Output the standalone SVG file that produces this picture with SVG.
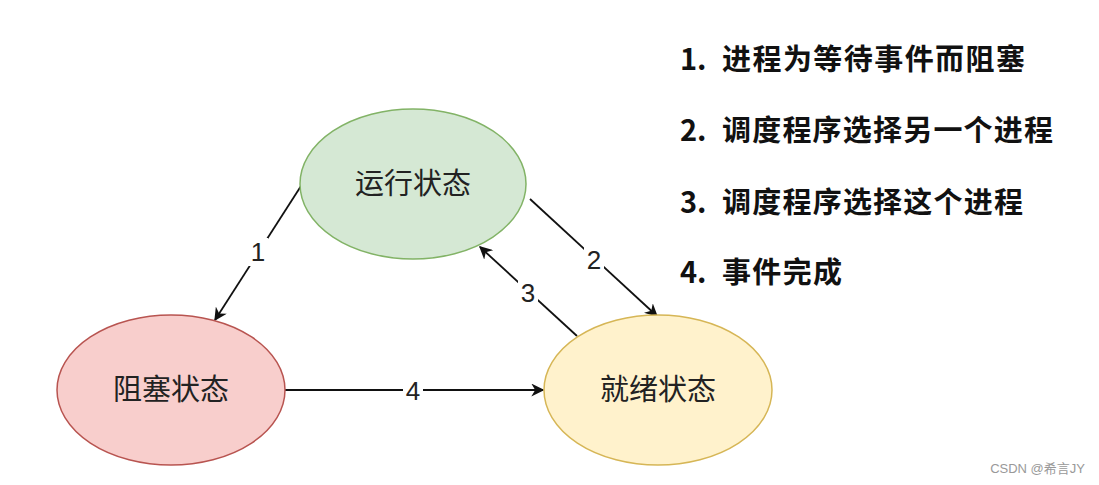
<svg xmlns="http://www.w3.org/2000/svg" width="1099" height="485" viewBox="0 0 1099 485">
<style>
.node-text{font-family:"Liberation Sans","Noto Sans CJK SC",sans-serif;font-size:29px;fill:#222;text-anchor:middle;dominant-baseline:central}
.lbl{font-family:"Liberation Sans",Arial,sans-serif;font-size:26px;fill:#222;text-anchor:middle;dominant-baseline:central}
.lblbg{fill:#fff}
.edge{stroke:#111;stroke-width:1.8;fill:none;marker-end:url(#arr)}
.legend{font-family:"Noto Sans CJK SC",sans-serif;font-size:29px;font-weight:bold;fill:#111}
</style>
<defs>
<marker id="arr" viewBox="0 0 10 10" refX="9" refY="5" markerWidth="13" markerHeight="13" markerUnits="userSpaceOnUse" orient="auto">
<path d="M0,0 L10,5 L0,10 L3,5 Z" fill="#111"/>
</marker>
</defs>
<rect width="1099" height="485" fill="#fff"/>
<g id="connectors">
<line class="edge" x1="301" y1="186" x2="215" y2="320"/>
<line class="edge" x1="530" y1="199" x2="657" y2="316"/>
<line class="edge" x1="577" y1="336" x2="480" y2="247"/>
<line class="edge" x1="285" y1="390" x2="543" y2="390"/>
<rect class="lblbg" x="248" y="238" width="20" height="28"/>
<text class="lbl" x="258" y="252">1</text>
<rect class="lblbg" x="584" y="246" width="20" height="28"/>
<text class="lbl" x="594" y="260">2</text>
<rect class="lblbg" x="518" y="279" width="20" height="28"/>
<text class="lbl" x="528" y="293">3</text>
<rect class="lblbg" x="403" y="377" width="20" height="28"/>
<text class="lbl" x="413" y="391">4</text>
</g>
<g id="running">
<ellipse cx="413" cy="184" rx="113" ry="75" fill="#d5e8d4" stroke="#82b366" stroke-width="1.5"/>
<text class="node-text" x="413" y="184">运行状态</text>
</g>
<g id="blocked">
<ellipse cx="171" cy="390" rx="114" ry="75" fill="#f8cecc" stroke="#b85450" stroke-width="1.5"/>
<text class="node-text" x="171" y="390">阻塞状态</text>
</g>
<g id="ready">
<ellipse cx="658" cy="390" rx="114" ry="75" fill="#fff2cc" stroke="#d6b656" stroke-width="1.5"/>
<text class="node-text" x="658" y="390">就绪状态</text>
</g>
<g id="legend">
<text class="legend" x="680" y="70">1.<tspan x="722" textLength="303">进程为等待事件而阻塞</tspan></text>
<text class="legend" x="680" y="141">2.<tspan x="722" textLength="331">调度程序选择另一个进程</tspan></text>
<text class="legend" x="680" y="213">3.<tspan x="722" textLength="301">调度程序选择这个进程</tspan></text>
<text class="legend" x="680" y="283">4.<tspan x="722" textLength="120">事件完成</tspan></text>
</g>
<text x="1085" y="473" text-anchor="end" font-family="'Liberation Sans','Noto Sans CJK SC',sans-serif" font-size="13" fill="#999">CSDN @希言JY</text>
</svg>
